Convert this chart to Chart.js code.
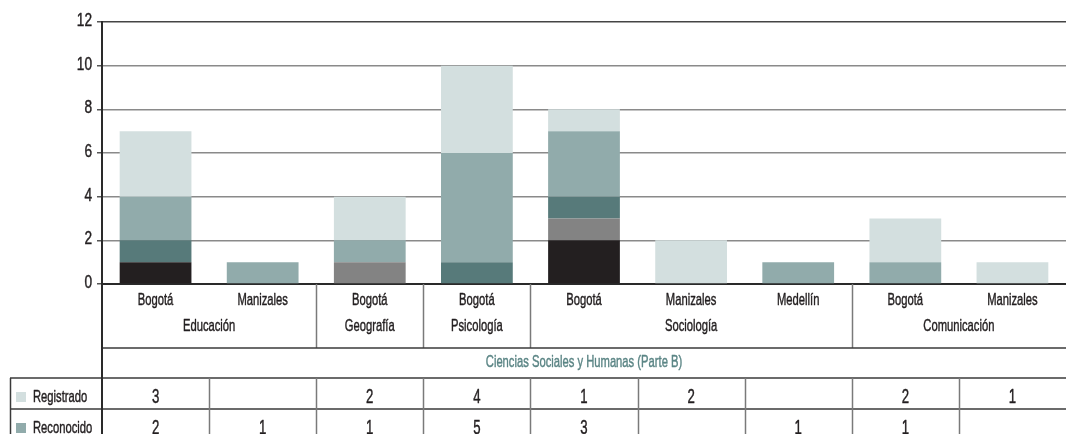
<!DOCTYPE html>
<html><head><meta charset="utf-8">
<script src="https://cdn.jsdelivr.net/npm/chart.js@4/dist/chart.umd.min.js"></script>
<style>html,body{margin:0;padding:0;background:#fff;overflow:hidden}#wrap{width:1066px;height:434px;position:relative}</style>
</head><body><div id="wrap"><canvas id="c" width="1066" height="434"></canvas></div>
<script>
// ---- data ----
const cities = ["Bogotá","Manizales","Bogotá","Bogotá","Bogotá","Manizales","Medellín","Bogotá","Manizales"];
const programNames = ["Educación","Geografía","Psicología","Sociología","Comunicación"];
const programStart = [0,2,3,4,7];
const programEnd   = [1,2,3,6,8];
const areaName = "Ciencias Sociales y Humanas (Parte B)";
const yTicks = [0,2,4,6,8,10,12];
// series (stack order bottom -> top)
const serieNegra   = [1,null,null,null,2,null,null,null,null];
const serieGris    = [null,null,1,null,1,null,null,null,null];
const serieOscura  = [1,null,null,1,1,null,null,null,null];
const reconocido   = [2,1,1,5,3,null,1,1,null];
const registrado   = [3,null,2,4,1,2,null,2,1];

const FONT = '"Liberation Sans","Arimo",sans-serif';
const INK = '#231f20';

function txt(ctx, s, x, y, size, sx, align, color){
  ctx.save();
  ctx.font = size+'px '+FONT; ctx.fillStyle = color; ctx.strokeStyle = color;
  ctx.lineWidth = 0.45; ctx.lineJoin = 'round';
  ctx.textAlign = align; ctx.textBaseline = 'alphabetic';
  ctx.translate(x, y); ctx.scale(sx, 1);
  ctx.fillText(s, 0, 0); ctx.strokeText(s, 0, 0);
  ctx.restore();
}

const datasets = [
  {label:"Serie 5", data:serieNegra, backgroundColor:"#231f20"},
  {label:"Serie 4", data:serieGris, backgroundColor:"#838383"},
  {label:"Serie 3", data:serieOscura, backgroundColor:"#577a7a"},
  {label:"Reconocido", data:reconocido, backgroundColor:"#91abab"},
  {label:"Registrado", data:registrado, backgroundColor:"#d3dfdf"}
].map(d=>Object.assign(d,{barPercentage:0.67,categoryPercentage:1,borderWidth:0}));

const tablePlugin = {
  id:'table',
  afterDraw(chart){
    const ctx = chart.ctx, xs = chart.scales.x, ys = chart.scales.y, ca = chart.chartArea;
    const n = cities.length;
    const step = xs.getPixelForValue(1)-xs.getPixelForValue(0);
    const cx = i=>xs.getPixelForValue(i);
    const bl = i=>cx(i)-step/2;
    const top = ca.bottom, rowCat = top+64, rowArea = rowCat+30, rowH = 31;
    const L = ca.left, R = ca.right, legL = 10;
    ctx.save();
    // y tick labels (condensed)
    yTicks.forEach(v=>txt(ctx, String(v), L-10, ys.getPixelForValue(v)+4, 18, 0.76, 'right', INK));
    // category labels
    cities.forEach((c,i)=>txt(ctx, c, cx(i), top+21, 17, 0.66, 'center', INK));
    programNames.forEach((p,k)=>{
      const x = (bl(programStart[k]) + bl(programEnd[k]+1))/2;
      txt(ctx, p, x, top+47, 17, 0.66, 'center', INK);
    });
    // group separators
    ctx.strokeStyle='#7a7a7a'; ctx.lineWidth=1.5;
    programStart.forEach((s,k)=>{ if(k===0) return;
      const x = Math.round(bl(s))+0.5;
      ctx.beginPath(); ctx.moveTo(x,top); ctx.lineTo(x,rowCat); ctx.stroke();
    });
    ctx.strokeStyle='#3a3a3a'; ctx.lineWidth=1.5;
    ctx.beginPath(); ctx.moveTo(L,rowCat); ctx.lineTo(R,rowCat); ctx.stroke();
    txt(ctx, areaName, (L+R)/2, rowCat+19, 17, 0.66, 'center', '#5b8585');
    const rows = [
      ["Registrado", registrado, "#d3dfdf"],
      ["Reconocido", reconocido, "#91abab"],
      ["Serie 3", serieOscura, "#577a7a"],
      ["Serie 4", serieGris, "#838383"],
      ["Serie 5", serieNegra, "#231f20"]
    ];
    rows.forEach((r,j)=>{
      const y0 = rowArea + j*rowH;
      ctx.strokeStyle = '#3a3a3a'; ctx.lineWidth=1.5;
      ctx.beginPath(); ctx.moveTo(legL,y0); ctx.lineTo(R,y0); ctx.stroke();
      ctx.fillStyle=r[2]; ctx.fillRect(16, y0+14, 10, 10);
      txt(ctx, r[0], 33, y0+24, 17, 0.66, 'left', INK);
      r[1].forEach((v,i)=>{ if(v!==null) txt(ctx, String(v), cx(i), y0+25, 20, 0.66, 'center', INK); });
    });
    const bottom = rowArea + rows.length*rowH;
    ctx.strokeStyle='#3a3a3a'; ctx.lineWidth=1.5;
    ctx.beginPath(); ctx.moveTo(legL+0.5,rowArea); ctx.lineTo(legL+0.5,bottom); ctx.stroke();
    ctx.strokeStyle='#7a7a7a';
    for(let i=1;i<n;i++){
      const x = Math.round(bl(i))+0.5;
      ctx.beginPath(); ctx.moveTo(x,rowArea); ctx.lineTo(x,bottom); ctx.stroke();
    }
    ctx.strokeStyle='#2a2a2a'; ctx.lineWidth=2;
    ctx.beginPath(); ctx.moveTo(L,top); ctx.lineTo(L,bottom); ctx.stroke();
    ctx.restore();
  }
};

new Chart(document.getElementById('c'), {
  type:'bar',
  data:{labels:cities, datasets},
  options:{
    responsive:false, animation:false, devicePixelRatio:1,
    layout:{padding:{left:0,right:0,top:22,bottom:150}},
    plugins:{legend:{display:false}, tooltip:{enabled:false}},
    scales:{
      x:{stacked:true, grid:{display:false}, ticks:{display:false},
         border:{display:true,color:'#2a2a2a',width:2},
         afterFit(s){s.height=0;}},
      y:{stacked:true, min:0, max:12,
         afterBuildTicks(s){ s.ticks = yTicks.map(v=>({value:v})); },
         ticks:{display:false},
         grid:{color:c=>c.tick&&c.tick.value===12?'#444':'#8a8a8a', lineWidth:1.5, drawTicks:true, tickLength:5, tickColor:'#555'},
         border:{display:true,color:'#2a2a2a',width:2},
         afterFit(s){s.width=102;}}
    }
  },
  plugins:[tablePlugin]
});
</script>
</body></html>
